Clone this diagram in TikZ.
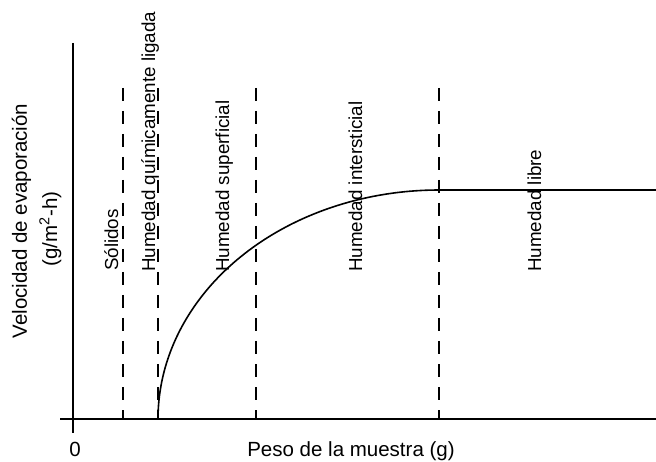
\documentclass[tikz,border=0pt]{standalone}
\usepackage{fontspec}
\setmainfont{Liberation Sans}
\begin{document}
\begin{tikzpicture}[x=1pt,y=-1pt,
  axisline/.style={line width=1.6pt},
  curveline/.style={line width=1.6pt},
  zoneline/.style={line width=1.6pt, dash pattern=on 13pt off 10pt},
  zonelabel/.style={rotate=90, anchor=base west, inner sep=0pt, font=\fontsize{18.8}{22}\selectfont},
  axislabel/.style={inner sep=0pt, anchor=base, font=\fontsize{20.5}{24}\selectfont}]
\useasboundingbox (0,0) rectangle (656,462);
% axes
\coordinate (ytop) at (73,43);
\coordinate (ybot) at (73,433);
\coordinate (xl) at (60,419);
\coordinate (xr) at (656,419);
\draw[axisline] (ytop) -- (ybot);
\draw[axisline] (xl) -- (xr);
% dashed zone boundaries
\foreach \n/\xx in {d1/123, d2/158, d3/256, d4/439} {
  \coordinate (\n top) at (\xx,88);
  \coordinate (\n bot) at (\xx,419);
  \draw[zoneline] (\n top) -- (\n bot);
}
% curve
\coordinate (c0) at (158,419);
\coordinate (c1) at (439,190);
\coordinate (c2) at (656,190);
\draw[curveline] plot[smooth, domain=180:270, samples=60] ({439+281*cos(\x)},{419+229*sin(\x)}) -- (c2);
% zone labels
\node[zonelabel] (sol) at (118,271) {Sólidos};
\node[zonelabel] (hql) at (155,272) {Humedad químicamente ligada};
\node[zonelabel] (hs) at (229,272) {Humedad superficial};
\node[zonelabel] (hi) at (362,272) {Humedad intersticial};
\node[zonelabel] (hl) at (541,272) {Humedad libre};
% axis labels
\node[axislabel, rotate=90] (yl1) at (27,221) {Velocidad de evaporación};
\node[axislabel, rotate=90] (yl2) at (57,229) {(g/m\textsuperscript{2}-h)};
\node[axislabel] (xlab) at (351,456) {Peso de la muestra (g)};
\node[axislabel] (zero) at (75,456) {0};
\end{tikzpicture}
\end{document}
